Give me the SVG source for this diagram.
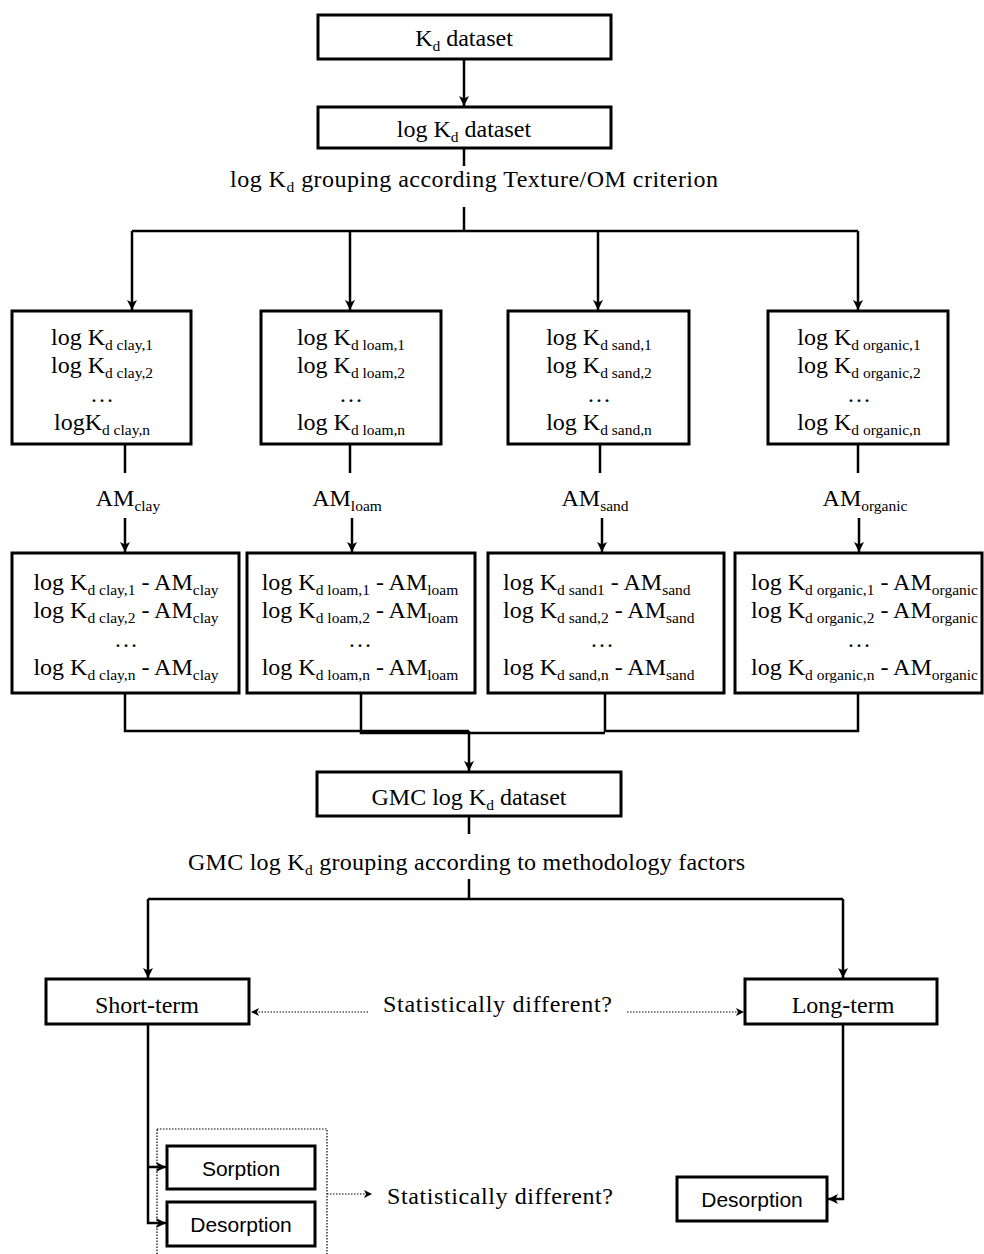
<svg xmlns="http://www.w3.org/2000/svg" width="984" height="1254" viewBox="0 0 984 1254">
<style>
.box{fill:#fff;stroke:#000;stroke-width:3}
.ln{fill:none;stroke:#000;stroke-width:2.5}
.dt{fill:none;stroke:#000;stroke-width:1.2;stroke-dasharray:1.5 1.5}
.t{font-family:"Liberation Serif",serif;font-size:24px;fill:#000}
.m{text-anchor:middle}
.sub{font-size:15.5px}
.s{font-family:"Liberation Sans",sans-serif;font-size:21px;fill:#000;text-anchor:middle}
</style>
<defs>
<marker id="ah" markerUnits="userSpaceOnUse" markerWidth="11" markerHeight="11" refX="10" refY="5" orient="auto">
<path d="M0,0 L10,5 L0,10 L2.5,5 z" fill="#000"/>
</marker>
<marker id="ad" markerUnits="userSpaceOnUse" markerWidth="9" markerHeight="9" refX="8" refY="4" orient="auto">
<path d="M0,0 L8,4 L0,8 L2,4 z" fill="#000"/>
</marker>
</defs>
<rect width="984" height="1254" fill="#fff"/>

<g id="connectors">
<path class="ln" d="M464,59 V106" marker-end="url(#ah)"/>
<path class="ln" d="M464,148 V166"/>
<path class="ln" d="M464,207 V231"/>
<path class="ln" d="M132,231 H858"/>
<path class="ln" d="M132,231 V310" marker-end="url(#ah)"/>
<path class="ln" d="M350,231 V310" marker-end="url(#ah)"/>
<path class="ln" d="M598,231 V310" marker-end="url(#ah)"/>
<path class="ln" d="M858,231 V310" marker-end="url(#ah)"/>
<path class="ln" d="M125,444 V473"/>
<path class="ln" d="M350,444 V473"/>
<path class="ln" d="M600,444 V473"/>
<path class="ln" d="M858,444 V473"/>
<path class="ln" d="M125,518 V552" marker-end="url(#ah)"/>
<path class="ln" d="M352,518 V552" marker-end="url(#ah)"/>
<path class="ln" d="M602,518 V552" marker-end="url(#ah)"/>
<path class="ln" d="M859,518 V552" marker-end="url(#ah)"/>
<path class="ln" d="M125,693 V731 H469"/>
<path class="ln" d="M361,693 V733 H605"/>
<path class="ln" d="M605,693 V731 H858 V693"/>
<path class="ln" d="M469,731 V771" marker-end="url(#ah)"/>
<path class="ln" d="M469,816 V834"/>
<path class="ln" d="M469,879 V899"/>
<path class="ln" d="M148,899 H843"/>
<path class="ln" d="M148,899 V978" marker-end="url(#ah)"/>
<path class="ln" d="M843,899 V978" marker-end="url(#ah)"/>
<path class="dt" d="M368,1012 H251" marker-end="url(#ad)"/>
<path class="dt" d="M627,1012 H744" marker-end="url(#ad)"/>
<path class="ln" d="M148,1024 V1223 H166" marker-end="url(#ah)"/>
<path class="ln" d="M148,1167 H166" marker-end="url(#ah)"/>
<path class="ln" d="M843,1024 V1199 H828" marker-end="url(#ah)"/>
<rect class="dt" x="157" y="1129" width="170" height="140"/>
<path class="dt" d="M327,1194 H372" marker-end="url(#ad)"/>
</g>

<g id="kd">
<rect class="box" x="318" y="15" width="293" height="44"/>
<text class="t m" x="464" y="46">K<tspan class="sub" dy="5">d</tspan><tspan dy="-5"> dataset</tspan></text>
</g>
<g id="logkd">
<rect class="box" x="318" y="107" width="293" height="41"/>
<text class="t m" x="464" y="137">log K<tspan class="sub" dy="5">d</tspan><tspan dy="-5"> dataset</tspan></text>
</g>
<text id="grouping1" class="t" x="230" y="187" textLength="488">log K<tspan class="sub" dy="5">d</tspan><tspan dy="-5"> grouping according Texture/OM criterion</tspan></text>

<g id="clay">
<rect class="box" x="12" y="311" width="179" height="133"/>
<text class="t m" x="102" y="345">log K<tspan class="sub" dy="5">d clay,1</tspan></text>
<text class="t m" x="102" y="373">log K<tspan class="sub" dy="5">d clay,2</tspan></text>
<text class="t m" x="102" y="402">…</text>
<text class="t m" x="102" y="430">logK<tspan class="sub" dy="5">d clay,n</tspan></text>
</g>
<g id="loam">
<rect class="box" x="261" y="311" width="180" height="133"/>
<text class="t m" x="351" y="345">log K<tspan class="sub" dy="5">d loam,1</tspan></text>
<text class="t m" x="351" y="373">log K<tspan class="sub" dy="5">d loam,2</tspan></text>
<text class="t m" x="351" y="402">…</text>
<text class="t m" x="351" y="430">log K<tspan class="sub" dy="5">d loam,n</tspan></text>
</g>
<g id="sand">
<rect class="box" x="508" y="311" width="181" height="133"/>
<text class="t m" x="599" y="345">log K<tspan class="sub" dy="5">d sand,1</tspan></text>
<text class="t m" x="599" y="373">log K<tspan class="sub" dy="5">d sand,2</tspan></text>
<text class="t m" x="599" y="402">…</text>
<text class="t m" x="599" y="430">log K<tspan class="sub" dy="5">d sand,n</tspan></text>
</g>
<g id="organic">
<rect class="box" x="768" y="311" width="180" height="133"/>
<text class="t m" x="859" y="345">log K<tspan class="sub" dy="5">d organic,1</tspan></text>
<text class="t m" x="859" y="373">log K<tspan class="sub" dy="5">d organic,2</tspan></text>
<text class="t m" x="859" y="402">…</text>
<text class="t m" x="859" y="430">log K<tspan class="sub" dy="5">d organic,n</tspan></text>
</g>

<text id="am-clay" class="t m" x="128" y="506">AM<tspan class="sub" dy="5">clay</tspan></text>
<text id="am-loam" class="t m" x="347" y="506">AM<tspan class="sub" dy="5">loam</tspan></text>
<text id="am-sand" class="t m" x="595" y="506">AM<tspan class="sub" dy="5">sand</tspan></text>
<text id="am-organic" class="t m" x="865" y="506">AM<tspan class="sub" dy="5">organic</tspan></text>

<g id="clay-c">
<rect class="box" x="12" y="553" width="227" height="140"/>
<text class="t m" x="126" y="590">log K<tspan class="sub" dy="5">d clay,1</tspan><tspan dy="-5"> - AM</tspan><tspan class="sub" dy="5">clay</tspan></text>
<text class="t m" x="126" y="618">log K<tspan class="sub" dy="5">d clay,2</tspan><tspan dy="-5"> - AM</tspan><tspan class="sub" dy="5">clay</tspan></text>
<text class="t m" x="126" y="647">…</text>
<text class="t m" x="126" y="675">log K<tspan class="sub" dy="5">d clay,n</tspan><tspan dy="-5"> - AM</tspan><tspan class="sub" dy="5">clay</tspan></text>
</g>
<g id="loam-c">
<rect class="box" x="247" y="553" width="228" height="140"/>
<text class="t m" x="360" y="590">log K<tspan class="sub" dy="5">d loam,1</tspan><tspan dy="-5"> - AM</tspan><tspan class="sub" dy="5">loam</tspan></text>
<text class="t m" x="360" y="618">log K<tspan class="sub" dy="5">d loam,2</tspan><tspan dy="-5"> - AM</tspan><tspan class="sub" dy="5">loam</tspan></text>
<text class="t m" x="360" y="647">…</text>
<text class="t m" x="360" y="675">log K<tspan class="sub" dy="5">d loam,n</tspan><tspan dy="-5"> - AM</tspan><tspan class="sub" dy="5">loam</tspan></text>
</g>
<g id="sand-c">
<rect class="box" x="488" y="553" width="236" height="140"/>
<text class="t" x="503" y="590">log K<tspan class="sub" dy="5">d sand1</tspan><tspan dy="-5"> -  AM</tspan><tspan class="sub" dy="5">sand</tspan></text>
<text class="t" x="503" y="618">log K<tspan class="sub" dy="5">d sand,2</tspan><tspan dy="-5"> -  AM</tspan><tspan class="sub" dy="5">sand</tspan></text>
<text class="t m" x="602" y="647">…</text>
<text class="t" x="503" y="675">log K<tspan class="sub" dy="5">d sand,n</tspan><tspan dy="-5"> -  AM</tspan><tspan class="sub" dy="5">sand</tspan></text>
</g>
<g id="organic-c">
<rect class="box" x="735" y="553" width="247" height="140"/>
<text class="t" x="751" y="590">log K<tspan class="sub" dy="5">d organic,1</tspan><tspan dy="-5"> - AM</tspan><tspan class="sub" dy="5">organic</tspan></text>
<text class="t" x="751" y="618">log K<tspan class="sub" dy="5">d organic,2</tspan><tspan dy="-5"> - AM</tspan><tspan class="sub" dy="5">organic</tspan></text>
<text class="t m" x="859" y="647">…</text>
<text class="t" x="751" y="675">log K<tspan class="sub" dy="5">d organic,n</tspan><tspan dy="-5"> - AM</tspan><tspan class="sub" dy="5">organic</tspan></text>
</g>

<g id="gmc">
<rect class="box" x="317" y="772" width="304" height="44"/>
<text class="t m" x="469" y="805">GMC log K<tspan class="sub" dy="5">d</tspan><tspan dy="-5"> dataset</tspan></text>
</g>
<text id="grouping2" class="t" x="188" y="870" textLength="557">GMC log K<tspan class="sub" dy="5">d</tspan><tspan dy="-5"> grouping according to methodology factors</tspan></text>

<g id="short">
<rect class="box" x="46" y="979" width="203" height="45"/>
<text class="t m" x="147" y="1013">Short-term</text>
</g>
<text id="stat1" class="t" x="383" y="1012" textLength="229">Statistically different?</text>
<g id="long">
<rect class="box" x="745" y="979" width="192" height="45"/>
<text class="t m" x="843" y="1013">Long-term</text>
</g>

<g id="sorption">
<rect class="box" x="167" y="1146" width="148" height="43"/>
<text class="s" x="241" y="1176">Sorption</text>
</g>
<g id="desorption-s">
<rect class="box" x="167" y="1202" width="148" height="44"/>
<text class="s" x="241" y="1232">Desorption</text>
</g>
<text id="stat2" class="t" x="387" y="1204" textLength="226">Statistically different?</text>
<g id="desorption-l">
<rect class="box" x="677" y="1177" width="150" height="44"/>
<text class="s" x="752" y="1207">Desorption</text>
</g>
</svg>
